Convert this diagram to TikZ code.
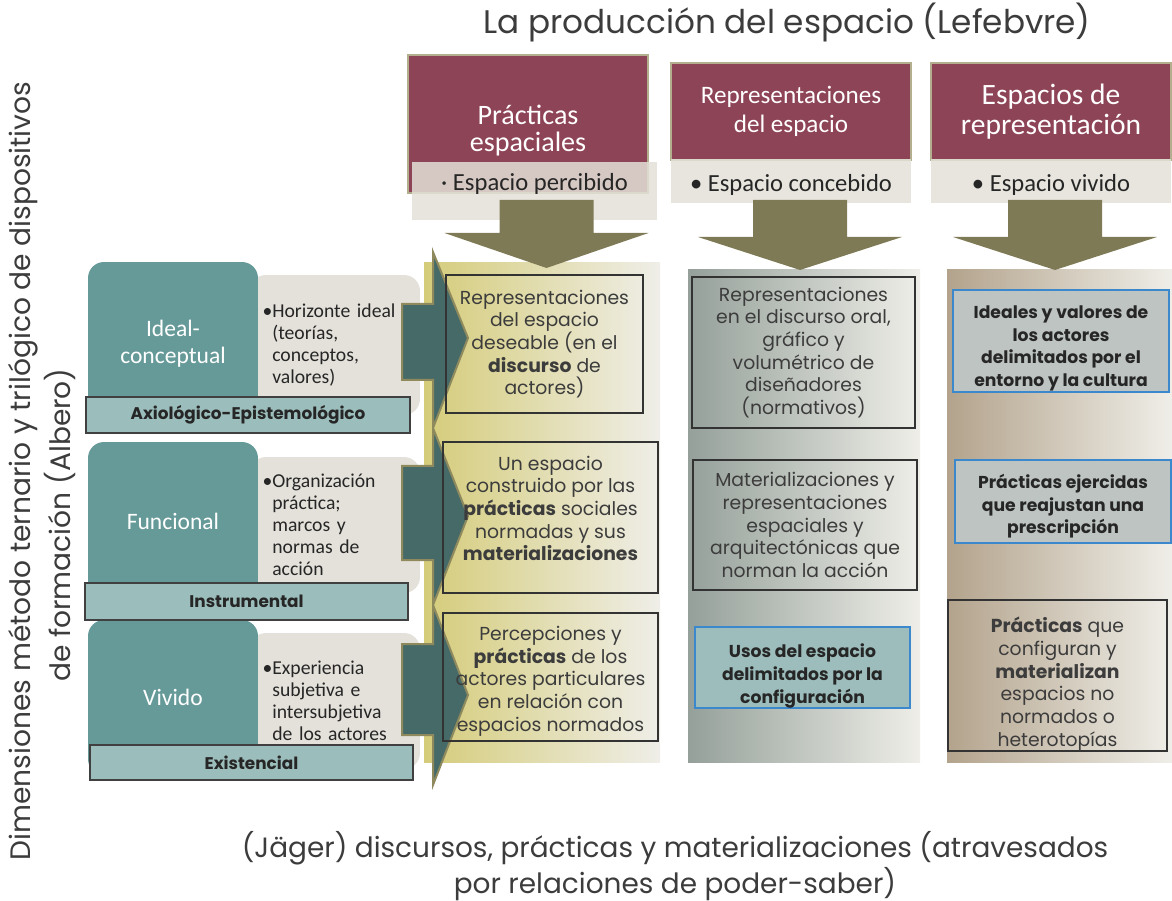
\documentclass[tikz,border=0pt]{standalone}
\usepackage{fontspec}
\setmainfont{Poppins}
\newfontfamily\calib{Carlito}
\definecolor{maroon}{HTML}{8E4457}
\definecolor{hdrline}{HTML}{B3AE8E}
\definecolor{bandgray}{HTML}{E3E0D7}
\definecolor{olivearrow}{HTML}{7E7A55}
\definecolor{col1l}{HTML}{D5CC7A}
\definecolor{col2l}{HTML}{95A09A}
\definecolor{col3l}{HTML}{B3A38C}
\definecolor{colr}{HTML}{EFEEE8}
\definecolor{dimteal}{HTML}{669A99}
\definecolor{notegray}{HTML}{E4E1DA}
\definecolor{barteal}{HTML}{9BBDBB}
\definecolor{arrteal}{HTML}{456A68}
\definecolor{arrline}{HTML}{8E8A5E}
\definecolor{boxblue}{HTML}{3C88CD}
\definecolor{fillteal}{HTML}{9CBDBB}
\definecolor{fillgray}{HTML}{BDC4C1}
\definecolor{ink}{HTML}{3C3C3C}
\begin{document}
\begin{tikzpicture}[x=0.02cm,y=-0.02cm,
	hdr/.style={draw=hdrline, line width=0.04cm, fill=maroon, text=white, align=center, minimum width=4.8cm, inner sep=0pt},
	band/.style={fill=bandgray, fill opacity=0.85, text opacity=1, text=black!85, font=\calib\fontsize{14}{16}\selectfont, inner sep=0pt},
	downarrow/.style={fill=olivearrow},
	dim/.style={fill=dimteal, rounded corners=0.32cm, text=white, align=center, font=\calib\fontsize{13.4}{15.5}\selectfont, minimum width=3.4cm},
	note/.style={fill=notegray, rounded corners=0.32cm, text=black!85, align=left, text width=2.9cm, inner xsep=0.25cm, font=\calib\fontsize{11.2}{12.6}\selectfont},
	bar/.style={fill=barteal, draw=black!75, line width=0.03cm, text=black!85, font=\bfseries\fontsize{9.6}{11}\selectfont},
	tarrow/.style={fill=arrteal, draw=arrline, line width=0.04cm},
	colbox/.style={draw=black!80, line width=0.03cm, text=ink, align=center, font=\fontsize{10.7}{12.9}\selectfont, inner sep=0pt},
	keybox/.style={colbox, draw=boxblue, text=black!85, font=\bfseries\fontsize{9.8}{12.9}\selectfont},
	sidetext/.style={rotate=90, font=\fontsize{16}{19}\selectfont, text=ink}]

	\useasboundingbox (0,0) rectangle (1172,901);

	\node[font=\fontsize{18.6}{21}\selectfont, text=ink] (title) at (787,22) {La producción del espacio (Lefebvre)};

	\node[hdr, font=\calib\fontsize{16}{15.5}\selectfont, minimum height=2.76cm, text depth=0.05cm] (hdr1) at (528,124) {\rule{0pt}{0.6cm}Prácticas\\espaciales};
	\node[hdr, font=\calib\fontsize{14.3}{16.3}\selectfont, minimum height=1.94cm] (hdr2) at (791,111.5) {Representaciones\\del espacio};
	\node[hdr, font=\calib\fontsize{16.8}{17}\selectfont, minimum height=1.94cm] (hdr3) at (1051,111.5) {Espacios de\\representación};

	\node[band, minimum width=4.9cm, minimum height=1.16cm, text depth=0.38cm] (bnd1) at (534.5,191) {· Espacio percibido};
	\node[band, minimum width=4.8cm, minimum height=0.88cm, text height=0.5cm] (bnd2) at (791,181) {• Espacio concebido};
	\node[band, minimum width=4.8cm, minimum height=0.88cm, text height=0.5cm] (bnd3) at (1051,181) {• Espacio vivido};

	\shade[left color=col1l, right color=colr] (424,263) rectangle (660,762);
	\shade[left color=col2l, right color=colr] (688,270) rectangle (920,762);
	\shade[left color=col3l, right color=colr] (947,270) rectangle (1172,762);

	\foreach \cx/\hb/\tp in {546.5/233/268, 800/237/270, 1055/237/270}
		\fill[downarrow] (\cx-47,200) -- (\cx+47,200) -- (\cx+47,\hb) -- (\cx+102,\hb) -- (\cx,\tp) -- (\cx-102,\hb) -- (\cx-47,\hb) -- cycle;

	\node[note, minimum height=2.8cm] (nideal) at (335,345) {•Horizonte~ideal\\\hphantom{•}(teorías,\\\hphantom{•}conceptos,\\\hphantom{•}valores)};
	\node[note, minimum height=2.72cm] (nfunc) at (335,525) {•Organización\\\hphantom{•}práctica;\\\hphantom{•}marcos y\\\hphantom{•}normas de\\\hphantom{•}acción};
	\node[note, minimum height=2.72cm] (nviv) at (335,701) {•Experiencia\\\hphantom{•}subjetiva e\\\hphantom{•}intersubjetiva\\\hphantom{•}de~los~actores};

	\node[dim, minimum height=3.28cm] (ideal) at (173,344) {Ideal-\\conceptual};
	\node[dim, minimum height=3.16cm] (func) at (173,521) {Funcional};
	\node[dim, minimum height=3.1cm] (viv) at (173,697.5) {Vivido};

	\node[bar, minimum width=6.48cm, minimum height=0.72cm] (axio) at (248,415) {Axiológico-Epistemológico};
	\node[bar, minimum width=6.46cm, minimum height=0.74cm] (instr) at (246.5,601.5) {Instrumental};
	\node[bar, minimum width=6.46cm, minimum height=0.7cm] (exist) at (251.5,762.5) {Existencial};

	\foreach \ht/\hb/\bt/\bb/\ty in {252/428/304/380/338, 428/605/466/560/516, 605/785/644/735/695}
		\draw[tarrow] (402,\bt) -- (433,\bt) -- (433,\ht) -- (468,\ty) -- (433,\hb) -- (433,\bb) -- (402,\bb) -- cycle;

	\node[colbox, minimum width=3.94cm, minimum height=2.76cm] (perc1) at (544.5,344) {Representaciones\\del espacio\\deseable (en el\\\textbf{discurso} de\\actores)};
	\node[colbox, minimum width=4.3cm, minimum height=3.02cm] (perc2) at (550.5,517.5) {Un espacio\\construido por las\\\textbf{prácticas} sociales\\normadas y sus\\\textbf{materializaciones}\rule[-0.36cm]{0pt}{0pt}};
	\node[colbox, minimum width=4.3cm, minimum height=2.56cm] (perc3) at (550.5,677) {\rule{0pt}{0.45cm}Percepciones y\\\textbf{prácticas} de los\\actores particulares\\en relación con\\espacios normados};

	\node[colbox, minimum width=4.46cm, minimum height=3.02cm] (conc1) at (803.5,352.5) {Representaciones\\en el discurso oral,\\gráfico y\\volumétrico de\\diseñadores\\(normativos)};
	\node[colbox, minimum width=4.48cm, minimum height=2.6cm] (conc2) at (805,525) {Materializaciones y\\representaciones\\espaciales y\\arquitectónicas que\\norman la acción};
	\node[keybox, fill=fillteal, minimum width=4.3cm, minimum height=1.62cm] (conc3) at (802.5,667.5) {\rule{0pt}{0.62cm}Usos del espacio\\delimitados por la\\configuración};

	\node[keybox, fill=fillgray, minimum width=4.32cm, minimum height=2.04cm] (viv1) at (1061,341) {\rule{0pt}{0.55cm}Ideales y valores de\\los actores\\delimitados por el\\entorno y la cultura};
	\node[keybox, fill=fillgray, minimum width=4.32cm, minimum height=1.66cm] (viv2) at (1063,501.5) {\rule{0pt}{0.48cm}Prácticas ejercidas\\que reajustan una\\prescripción};
	\node[colbox, minimum width=4.38cm, minimum height=2.9cm] (viv3) at (1057.5,675.5) {\rule{0pt}{0.66cm}\textbf{Prácticas} que\\configuran y\\\textbf{materializan}\\espacios no\\normados o\\heterotopías};

	\node[sidetext] (dims1) at (23,471) {Dimensiones método ternario y trilógico de dispositivos};
	\node[sidetext] (dims2) at (60,525) {de formación (Albero)};

	\node[align=center, font=\fontsize{15.9}{17.6}\selectfont, text=ink] (jager) at (675,866) {(Jäger) discursos, prácticas y materializaciones (atravesados\\por relaciones de poder-saber)};

\end{tikzpicture}
\end{document}
